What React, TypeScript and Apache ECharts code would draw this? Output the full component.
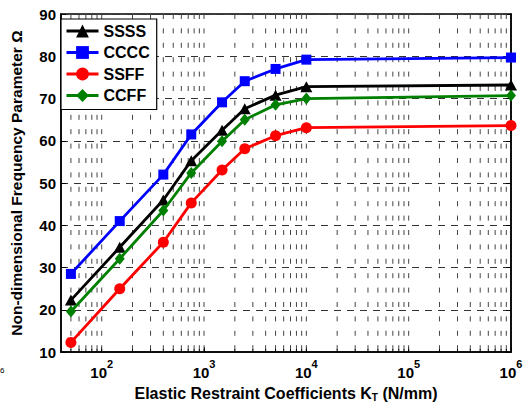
import React, { useEffect, useRef } from 'react';
import * as echarts from 'echarts';

const FONT = '"Liberation Sans", Arial, Helvetica, sans-serif';

const stiffness = [50, 150, 400, 750, 1500, 2500, 5000, 10000, 1000000];
const ssss = [22.3, 34.8, 46.0, 55.3, 62.5, 67.6, 70.8, 72.8, 73.2];
const cccc = [28.5, 41.0, 52.0, 61.5, 69.1, 74.1, 77.0, 79.2, 79.7];
const ssff = [12.3, 25.0, 36.0, 45.3, 53.1, 58.1, 61.2, 63.1, 63.6];
const ccff = [19.6, 32.1, 43.5, 52.4, 59.9, 65.0, 68.5, 70.0, 70.7];

const seriesNames = ['SSSS', 'CCCC', 'SSFF', 'CCFF'];
const seriesColors = ['#000000', '#0000ff', '#ff0000', '#008000'];
const seriesSymbols = ['triangle', 'rect', 'circle', 'diamond'];
const seriesSymbolSizes: any[] = [[12, 11], 10, 11, [10, 12]];
const seriesValues = [ssss, cccc, ssff, ccff];

const xMin = 40;
const xMax = 1000000;
const yMin = 10;
const yMax = 90;
const yStep = 10;

// grid positions of a log axis: 1..9 x each decade, inside the axis range
const decades = [10, 100, 1000, 10000, 100000];
const logGridValues: number[] = [];
decades.forEach((d) => {
  for (let m = 1; m <= 9; m++) {
    const v = m * d;
    if (v > xMin && v < xMax) logGridValues.push(v);
  }
});

function isPow10(v: number) {
  const l = Math.log10(v);
  return Math.abs(l - Math.round(l)) < 1e-6;
}

export default function App() {
  const ref = useRef<HTMLDivElement>(null);
  useEffect(() => {
    const chart = echarts.init(ref.current!, null, { renderer: 'svg' });
    const lineSeries = seriesNames.map((name, i) => ({
      name,
      type: 'line',
      data: stiffness.map((x, j) => [x, seriesValues[i][j]]),
      symbol: seriesSymbols[i],
      symbolSize: seriesSymbolSizes[i],
      showAllSymbol: true,
      lineStyle: { color: seriesColors[i], width: 2.8 },
      itemStyle: { color: seriesColors[i] },
      z: 5 + i,
    }));
    const option: any = {
      animation: false,
      backgroundColor: '#ffffff',
      textStyle: { fontFamily: FONT },
      grid: {
        left: 57,
        top: 14,
        right: 19,
        bottom: 47,
        show: true,
        borderColor: '#000',
        borderWidth: 1.5,
        backgroundColor: 'transparent',
      },
      legend: {
        data: seriesNames,
        orient: 'vertical',
        left: 61,
        top: 19,
        padding: [4, 7, 6, 4],
        backgroundColor: '#ffffff',
        borderColor: '#000',
        borderWidth: 1.2,
        itemWidth: 32,
        itemHeight: 16,
        itemGap: 5.5,
        lineStyle: { width: 3 },
        textStyle: {
          fontFamily: FONT,
          fontSize: 16,
          fontWeight: 'bold',
          color: '#000',
          lineHeight: 16,
        },
      },
      xAxis: {
        type: 'log',
        logBase: 10,
        min: xMin,
        max: xMax,
        name: '{a|Elastic Restraint Coefficients K}{s|T}{a| (N/mm)}',
        nameLocation: 'middle',
        nameGap: 28.5,
        nameTextStyle: {
          rich: {
            a: { fontFamily: FONT, fontSize: 16, fontWeight: 'bold', color: '#000', lineHeight: 18 },
            s: { fontFamily: FONT, fontSize: 10, fontWeight: 'bold', color: '#000', verticalAlign: 'bottom', lineHeight: 18, padding: [7, 0, 0, 0] },
          },
        },
        axisLine: { show: true, lineStyle: { color: '#000', width: 1.5 } },
        axisTick: { show: true, inside: true, length: 5, lineStyle: { color: '#000' } },
        splitLine: { show: false },
        axisLabel: {
          showMinLabel: false,
          showMaxLabel: true,
          margin: 6,
          formatter: (v: number) => (isPow10(v) ? `{a|10}{b|${Math.round(Math.log10(v))}}` : ''),
          rich: {
            a: { fontFamily: FONT, fontSize: 15, fontWeight: 'bold', color: '#000', lineHeight: 22, verticalAlign: 'bottom' },
            b: { fontFamily: FONT, fontSize: 11, fontWeight: 'bold', color: '#000', lineHeight: 22, verticalAlign: 'top' },
          },
        },
      },
      yAxis: [
        {
          type: 'value',
          min: yMin,
          max: yMax,
          interval: yStep,
          name: 'Non-dimensional Frequency Parameter Ω',
          nameLocation: 'middle',
          nameGap: 37,
          nameRotate: 90,
          nameTextStyle: { fontFamily: FONT, fontSize: 15.5, fontWeight: 'bold', color: '#000' },
          axisLine: { show: true, lineStyle: { color: '#000', width: 1.5 } },
          axisTick: { show: true, inside: true, length: 5, lineStyle: { color: '#000' } },
          axisLabel: { fontFamily: FONT, fontSize: 15, fontWeight: 'bold', color: '#000', margin: 5 },
          splitLine: { show: true, lineStyle: { color: '#333', width: 1, type: [7, 6] } },
        },
        {
          type: 'value',
          position: 'right',
          min: yMin,
          max: yMax,
          interval: yStep,
          axisLine: { show: true, lineStyle: { color: '#000', width: 1.5 } },
          axisTick: { show: true, inside: true, length: 5, lineStyle: { color: '#000' } },
          axisLabel: { show: false },
          splitLine: { show: false },
        },
      ],
      graphic: [
        { type: 'text', left: 0, top: 366, style: { text: '6', fontFamily: FONT, fontSize: 8, fill: '#000' } },
      ],
      series: [
        {
          type: 'custom',
          coordinateSystem: 'cartesian2d',
          silent: true,
          z: 1,
          data: logGridValues.map((v) => [v, yMin]),
          encode: { x: 0, y: 1 },
          renderItem: (_p: any, api: any) => {
            const x = api.value(0);
            const top = api.coord([x, yMax]);
            const bot = api.coord([x, yMin]);
            return {
              type: 'group',
              children: [
                {
                  type: 'line',
                  shape: { x1: top[0], y1: top[1], x2: bot[0], y2: bot[1] },
                  style: { stroke: '#444', lineWidth: 1, lineDash: [5, 9.4] },
                },
                {
                  type: 'line',
                  shape: { x1: bot[0], y1: bot[1], x2: bot[0], y2: bot[1] - 3 },
                  style: { stroke: '#000', lineWidth: 1 },
                },
              ],
            };
          },
        },
        ...lineSeries,
      ],
    };
    chart.setOption(option);
    return () => chart.dispose();
  }, []);
  return (
    <div
      ref={ref}
      style={{ position: 'fixed', left: 0, top: 0, width: 530, height: 407, background: '#fff' }}
    />
  );
}
